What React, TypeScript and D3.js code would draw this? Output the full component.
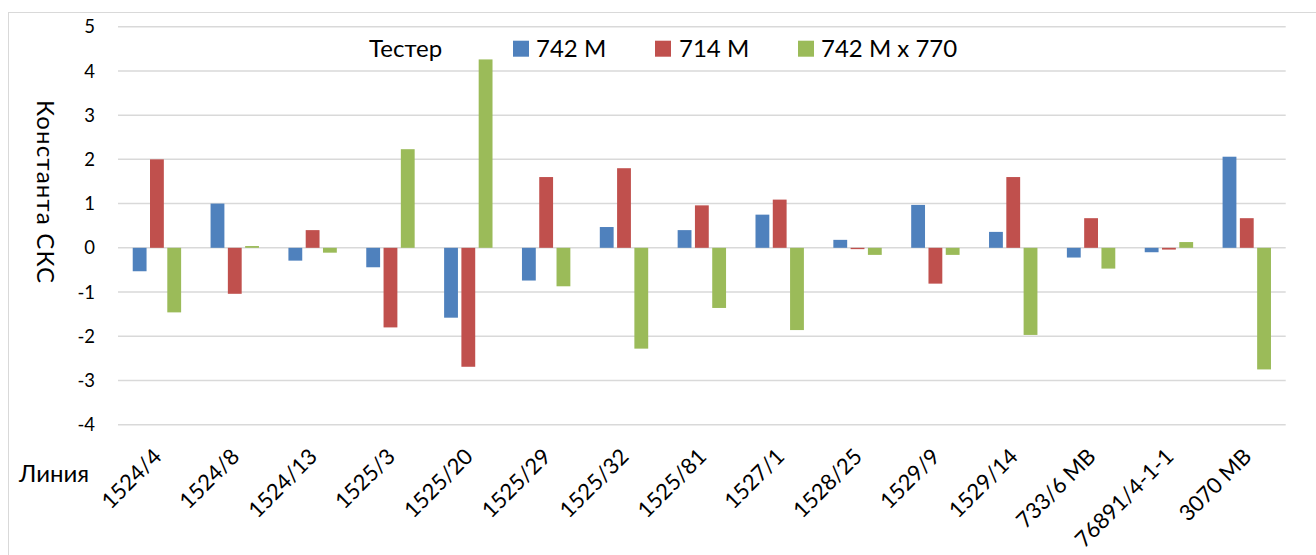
import React from "react";
import * as d3 from "d3";

const categories = ["1524/4", "1524/8", "1524/13", "1525/3", "1525/20", "1525/29", "1525/32", "1525/81", "1527/1", "1528/25", "1529/9", "1529/14", "733/6 MB", "76891/4-1-1", "3070 MB"];
const seriesNames = ["742 M", "714 M", "742 M x 770"];
const s742 = [-0.53, 1.0, -0.29, -0.44, -1.58, -0.74, 0.47, 0.4, 0.75, 0.18, 0.97, 0.36, -0.22, -0.1, 2.06];
const s714 = [2.0, -1.04, 0.4, -1.8, -2.69, 1.6, 1.8, 0.96, 1.09, -0.03, -0.81, 1.6, 0.67, -0.04, 0.67];
const s742x770 = [-1.46, 0.04, -0.11, 2.23, 4.26, -0.87, -2.28, -1.36, -1.86, -0.16, -0.16, -1.97, -0.47, 0.13, -2.75];
const yTicks = [5, 4, 3, 2, 1, 0, -1, -2, -3, -4];
const colors = ["#4F81BD", "#C0504D", "#9BBB59"];

const W = 1316, H = 555;
const FONT = "Lato, 'Open Sans', sans-serif";

export default function App() {
  const allSeries = [s742, s714, s742x770];
  const x0 = d3.scaleBand<string>().domain(categories).range([118, 1285.7]).padding(0);
  const y = d3.scaleLinear().domain([-4, 5]).range([424.7, 26.7]);
  const groupW = 48.4;
  const x1 = d3.scaleBand<string>().domain(seriesNames).range([-groupW / 2, groupW / 2]).paddingInner(0.2).paddingOuter(0);

  const legendItems = [
    { sq: 513, tx: 536 },
    { sq: 655, tx: 679 },
    { sq: 798, tx: 821 },
  ];

  return (
    <svg width={W} height={H} style={{ position: "absolute", left: 0, top: 0, background: "#fff" }}>
      <rect x={8.5} y={12.5} width={W + 10} height={H + 10} fill="#fff" stroke="#D9D9D9" strokeWidth={1} />
      {yTicks.map((t) => (
        <g key={t}>
          <line x1={118} x2={1285.7} y1={y(t)} y2={y(t)} stroke="#D9D9D9" strokeWidth={1.5} />
          <text x={95} y={y(t)} dy="0.36em" textAnchor="end" fontFamily={FONT} fontSize={18.5} fill="#000">
            {t}
          </text>
        </g>
      ))}
      {categories.map((c, i) => {
        const cx = (x0(c) as number) + x0.bandwidth() / 2;
        return (
          <g key={c}>
            {allSeries.map((s, j) => {
              const v = s[i];
              const bx = cx + (x1(seriesNames[j]) as number);
              const y0 = y(0);
              const yv = y(v);
              return (
                <rect
                  key={j}
                  x={bx}
                  y={Math.min(y0, yv)}
                  width={x1.bandwidth()}
                  height={Math.max(Math.abs(yv - y0), 0.8)}
                  fill={colors[j]}
                />
              );
            })}
            <text
              transform={`translate(${cx + 6},${458}) rotate(-45)`}
              textAnchor="end"
              fontFamily={FONT}
              fontSize={22}
              fill="#000"
            >
              {c}
            </text>
          </g>
        );
      })}
      <text x={19} y={482} fontFamily={FONT} fontSize={24} fill="#000">Линия</text>
      <text transform={`translate(37,192) rotate(90)`} textAnchor="middle" fontFamily={FONT} fontSize={24} letterSpacing={1.2} fill="#000">
        Константа СКС
      </text>
      <text x={369} y={57} fontFamily={FONT} fontSize={24} fill="#000">Тестер</text>
      {seriesNames.map((n, j) => (
        <g key={n}>
          <rect x={legendItems[j].sq} y={40.7} width={16} height={16} fill={colors[j]} />
          <text x={legendItems[j].tx} y={57} fontFamily={FONT} fontSize={24} fill="#000">{n}</text>
        </g>
      ))}
    </svg>
  );
}
